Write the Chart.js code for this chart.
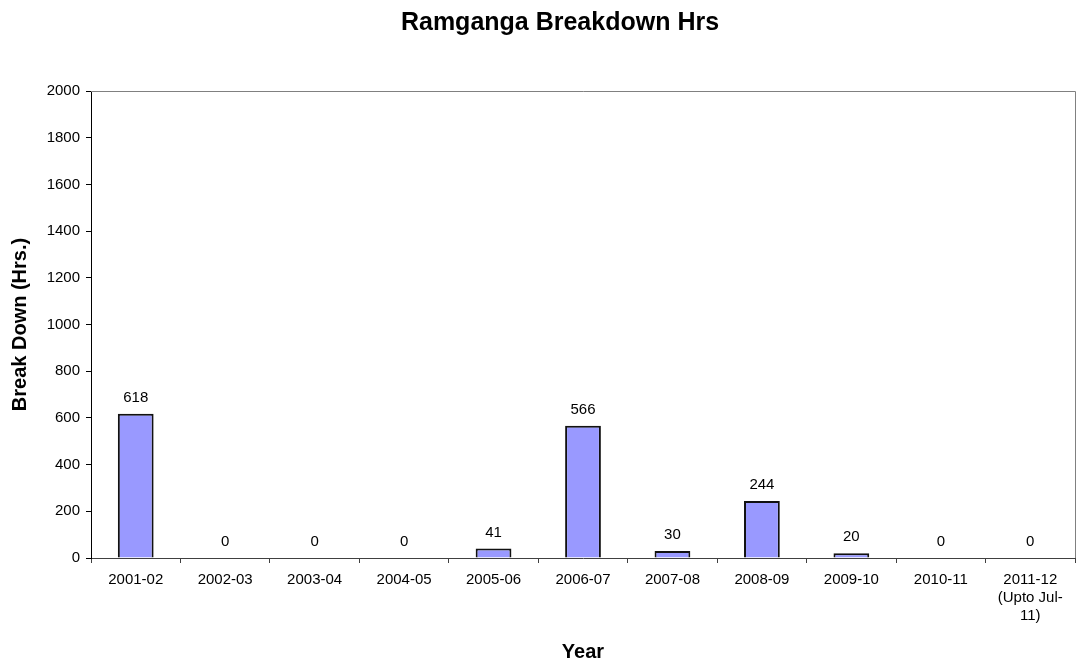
<!DOCTYPE html>
<html>
<head>
<meta charset="utf-8">
<script src="https://cdn.jsdelivr.net/npm/chart.js@4/dist/chart.umd.min.js"></script>
<style>
  html, body { margin: 0; padding: 0; background: #fff; }
  #wrap { width: 1077px; height: 662px; position: relative; }
</style>
</head>
<body>
<div id="wrap"><canvas id="c"></canvas></div>
<script>
const categories = ['2001-02', '2002-03', '2003-04', '2004-05', '2005-06', '2006-07', '2007-08', '2008-09', '2009-10', '2010-11', ['2011-12', '(Upto Jul-', '11)']];
const breakdownHours = [618, 0, 0, 0, 41, 566, 30, 244, 20, 0, 0];
const chartTitle = 'Ramganga Breakdown Hrs';
const yAxisTitle = 'Break Down (Hrs.)';
const xAxisTitle = 'Year';
const yMin = 0, yMax = 2000, yStep = 200;

const FONT = "'Liberation Sans', Arial, sans-serif";
Chart.defaults.font.family = FONT;
Chart.defaults.color = '#000';

const valueLabels = {
  id: 'valueLabels',
  afterDatasetsDraw(chart) {
    const ctx = chart.ctx;
    const meta = chart.getDatasetMeta(0);
    ctx.save();
    ctx.font = '15px ' + FONT;
    ctx.fillStyle = '#000';
    ctx.textAlign = 'center';
    ctx.textBaseline = 'middle';
    meta.data.forEach((bar, i) => {
      const v = chart.data.datasets[0].data[i];
      ctx.fillText(String(v), bar.x, bar.y - 16);
    });
    ctx.restore();
  }
};

const frame = {
  id: 'frame',
  afterDraw(chart) {
    const a = chart.chartArea;
    const ctx = chart.ctx;
    ctx.save();
    ctx.strokeStyle = '#808080';
    ctx.lineWidth = 1;
    ctx.beginPath();
    ctx.moveTo(a.left, a.top + 0.5);
    ctx.lineTo(a.right + 0.5, a.top + 0.5);
    ctx.lineTo(a.right + 0.5, a.bottom);
    ctx.stroke();
    // chart title (offset to the right as in the reference)
    ctx.fillStyle = '#000';
    ctx.font = 'bold 25px ' + FONT;
    ctx.textAlign = 'center';
    ctx.textBaseline = 'middle';
    ctx.fillText(chartTitle, 560, 23);
    ctx.restore();
  }
};

new Chart(document.getElementById('c'), {
  type: 'bar',
  data: {
    labels: categories,
    datasets: [{
      data: breakdownHours,
      backgroundColor: '#9999FF',
      borderColor: '#111111',
      borderWidth: 2,
      barPercentage: 0.4,
      categoryPercentage: 1.0
    }]
  },
  options: {
    responsive: true,
    maintainAspectRatio: false,
    animation: false,
    devicePixelRatio: 1,
    layout: { padding: { left: 0, right: 2, top: 91, bottom: 0 } },
    plugins: {
      legend: { display: false },
      tooltip: { enabled: false },
      title: { display: false }
    },
    scales: {
      x: {
        offset: true,
        grid: { display: true, offset: true, drawOnChartArea: false, drawTicks: true, tickLength: 5, color: '#404040' },
        border: { display: true, color: '#404040', width: 1 },
        ticks: { color: '#000', font: { size: 15, family: FONT, lineHeight: 1.2 }, padding: 8, maxRotation: 0, autoSkip: false },
        title: { display: true, text: xAxisTitle, color: '#000', font: { size: 20, weight: 'bold', family: FONT, lineHeight: 1.0 }, padding: 0 },
        afterFit(scale) { scale.height = 104; }
      },
      y: {
        min: yMin, max: yMax,
        grid: { display: true, drawOnChartArea: false, drawTicks: true, tickLength: 5, color: '#000' },
        border: { display: true, color: '#000', width: 1 },
        ticks: { stepSize: yStep, color: '#000', font: { size: 15, family: FONT }, padding: 6, callback: (v) => String(v) },
        title: { display: true, text: yAxisTitle, color: '#000', font: { size: 20, weight: 'bold', family: FONT, lineHeight: 2.0 }, padding: 0 },
        afterFit(scale) { scale.width = 91; }
      }
    }
  },
  plugins: [valueLabels, frame]
});
</script>
</body>
</html>
